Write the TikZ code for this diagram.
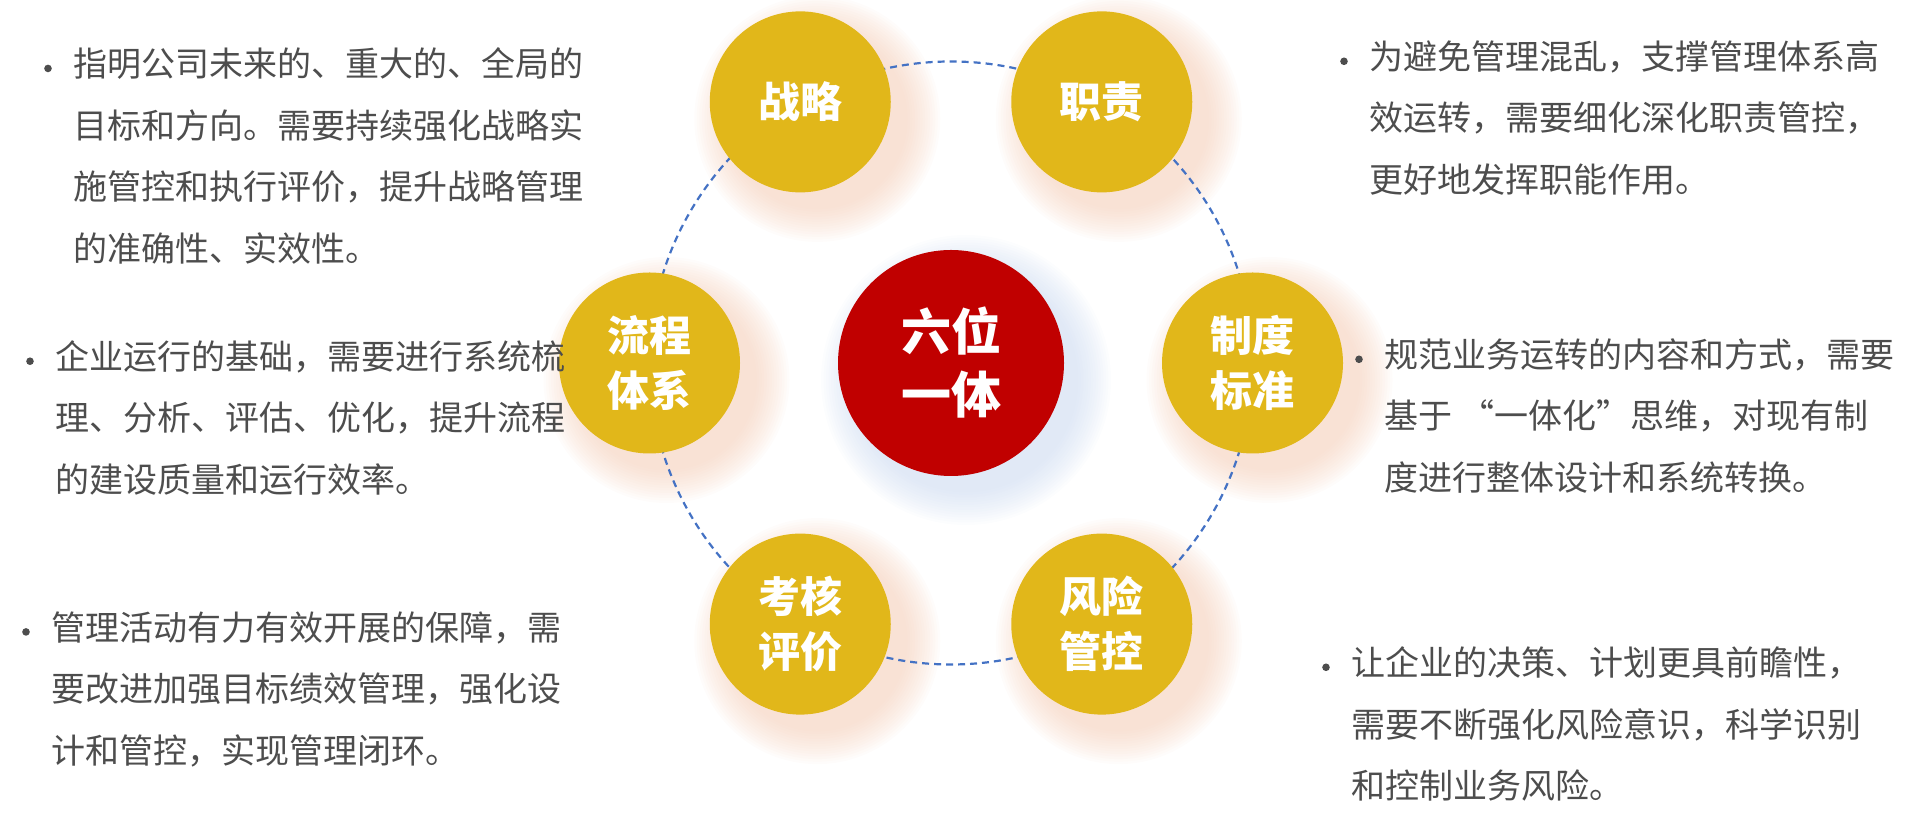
\documentclass[tikz,border=0pt]{standalone}
\usepackage{fontspec}
\newfontfamily\cjk{Noto Sans CJK SC}
\usetikzlibrary{backgrounds}

\definecolor{petalyellow}{HTML}{E1B71A}
\definecolor{hubred}{HTML}{C00000}
\definecolor{ringblue}{HTML}{4472C4}
\definecolor{notegray}{HTML}{4D4D4D}
\definecolor{glowpeach}{HTML}{F3C7AE}
\definecolor{glowblue}{HTML}{C5D5EE}

\tikzset{
    petal/.style={circle, fill=petalyellow, text=white, minimum size=90.5pt,
        inner sep=0pt, align=center,
        font=\cjk\bfseries\fontsize{21}{27.5}\selectfont},
    hub/.style={circle, fill=hubred, text=white, minimum size=113pt,
        inner sep=0pt, align=center,
        font=\cjk\bfseries\fontsize{25}{31.5}\selectfont},
    note/.style={anchor=west, inner sep=0pt, align=left, text=notegray,
        font=\cjk\fontsize{17}{30.75}\selectfont},
    ring/.style={ringblue, line width=1.1pt, dash pattern=on 3.5pt off 2.5pt},
}

\begin{document}
\begin{tikzpicture}[x=0.5pt, y=0.5pt]
    \useasboundingbox (0,0) rectangle (1920,828);

    % six circles round the centre
    \node[hub] (hub) at (951,465) {六位\\一体};
    \node[petal] (strat) at ([shift={(120:301.5)}]hub) {战略};
    \node[petal] (duty) at ([shift={(60:301.5)}]hub) {职责};
    \node[petal] (rule) at ([shift={(0:301.5)}]hub) {制度\\标准};
    \node[petal] (risk) at ([shift={(-60:301.5)}]hub) {风险\\管控};
    \node[petal] (exam) at ([shift={(-120:301.5)}]hub) {考核\\评价};
    \node[petal] (flow) at ([shift={(180:301.5)}]hub) {流程\\体系};

    \begin{scope}[on background layer]
        \foreach \n in {strat,duty,rule,risk,exam,flow}
            \foreach \k in {1,...,14}
                \fill[glowpeach, opacity=0.05]
                    ([shift={(17,-17)}]\n.center) circle ({88+2.5*\k});
        \foreach \k in {1,...,14}
            \fill[glowblue, opacity=0.05]
                ([shift={(15,-17)}]hub.center) circle ({110+2.5*\k});
        \draw[ring] (hub) circle (301.5);
    \end{scope}

    % notes
    \node[note] (stratnote) at (73,672) {指明公司未来的、重大的、全局的\\
        目标和方向。需要持续强化战略实\\
        施管控和执行评价，提升战略管理\\
        的准确性、实效性。};
    \node[note] (flownote) at (55,410) {企业运行的基础，需要进行系统梳\\
        理、分析、评估、优化，提升流程\\
        的建设质量和运行效率。};
    \node[note] (examnote) at (51,139) {管理活动有力有效开展的保障，需\\
        要改进加强目标绩效管理，强化设\\
        计和管控，实现管理闭环。};
    \node[note] (dutynote) at (1369,710) {为避免管理混乱，支撑管理体系高\\
        效运转，需要细化深化职责管控，\\
        更好地发挥职能作用。};
    \node[note] (rulenote) at (1384,412) {规范业务运转的内容和方式，需要\\
        基于 “一体化”思维，对现有制\\
        度进行整体设计和系统转换。};
    \node[note] (risknote) at (1351,104) {让企业的决策、计划更具前瞻性，\\
        需要不断强化风险意识，科学识别\\
        和控制业务风险。};

    \foreach \n in {stratnote,flownote,examnote,dutynote,rulenote,risknote}
        \fill[notegray] ([shift={(-25,-21)}]\n.north west) circle (3.8);
\end{tikzpicture}
\end{document}
